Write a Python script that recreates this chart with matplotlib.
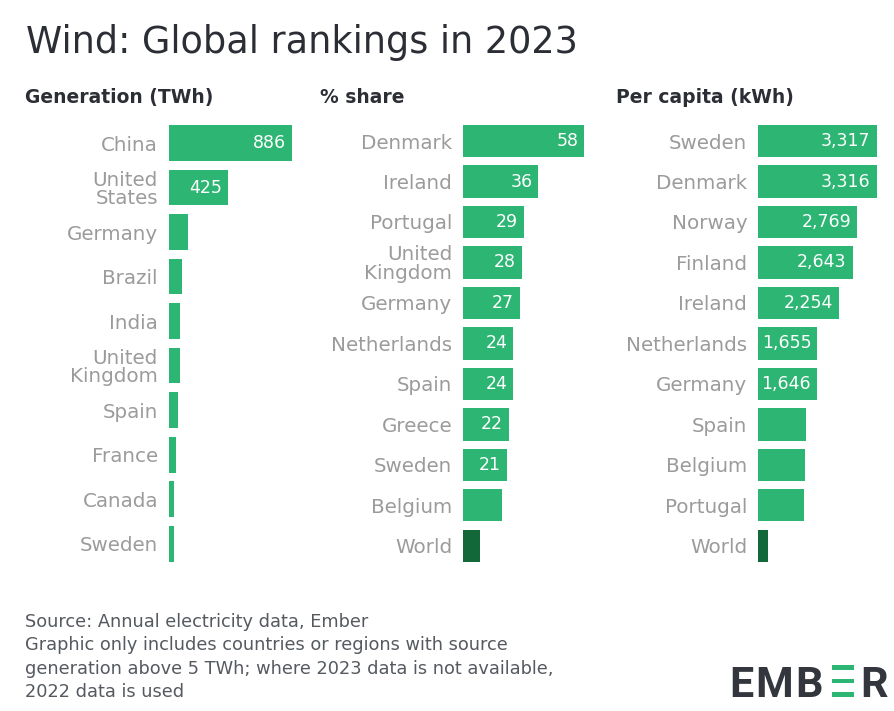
import matplotlib
matplotlib.use("Agg")
import matplotlib.pyplot as plt
from matplotlib.patches import Rectangle

# Data
gen_countries = ["China", "United\nStates", "Germany", "Brazil", "India",
                 "United\nKingdom", "Spain", "France", "Canada", "Sweden"]
gen_values = [886, 425, 138, 96, 82, 82, 62, 49, 39, 34]
gen_labels = ["886", "425", None, None, None, None, None, None, None, None]

share_countries = ["Denmark", "Ireland", "Portugal", "United\nKingdom", "Germany",
                   "Netherlands", "Spain", "Greece", "Sweden", "Belgium", "World"]
share_values = [58, 36, 29, 28, 27, 24, 24, 22, 21, 18.5, 8]
share_labels = ["58", "36", "29", "28", "27", "24", "24", "22", "21", None, None]

pc_countries = ["Sweden", "Denmark", "Norway", "Finland", "Ireland", "Netherlands",
                "Germany", "Spain", "Belgium", "Portugal", "World"]
pc_values = [3317, 3316, 2769, 2643, 2254, 1655, 1646, 1346, 1309, 1281, 280]
pc_labels = ["3,317", "3,316", "2,769", "2,643", "2,254", "1,655", "1,646",
             None, None, None, None]

GREEN = "#2db673"
DARK_GREEN = "#13683a"
TITLE_COL = "#2b2e34"
LABEL_COL = "#9b9b9b"
NOTE_COL = "#555a60"

W, H = 895, 711
fig = plt.figure(figsize=(W / 100, H / 100), dpi=100)
fig.patch.set_facecolor("white")


def px(x, y):
    return x / W, 1 - y / H


def panel(left, width, names, values, labels):
    top, bottom = 120.8, 566
    ax = fig.add_axes([left / W, 1 - bottom / H, width / W, (bottom - top) / H])
    n = len(values)
    colors = [DARK_GREEN if c == "World" else GREEN for c in names]
    ax.barh(range(n), values, height=0.8, color=colors, edgecolor="none")
    ax.set_xlim(0, max(values))
    ax.set_ylim(n - 0.5, -0.5)
    ax.set_yticks(range(n))
    ax.set_yticklabels(names, fontsize=14.3, color=LABEL_COL)
    for t in ax.get_yticklabels():
        t.set_linespacing(0.95)
    ax.tick_params(axis="y", length=0, pad=8)
    ax.set_xticks([])
    for s in ax.spines.values():
        s.set_visible(False)
    for i, (v, lab) in enumerate(zip(values, labels)):
        if lab:
            ax.annotate(lab, (v, i), xytext=(-6, 0), textcoords="offset pixels",
                        ha="right", va="center", color="white", fontsize=12.5)
    return ax


panel(169, 122.7, gen_countries, gen_values, gen_labels)
panel(463.3, 121, share_countries, share_values, share_labels)
panel(758.3, 118.3, pc_countries, pc_values, pc_labels)

# title + column headers
fig.text(*px(26, 53), "Wind: Global rankings in 2023", fontsize=26.4,
         color=TITLE_COL, va="baseline", ha="left")
for x, h in [(25, "Generation (TWh)"), (320, "% share"), (616, "Per capita (kWh)")]:
    fig.text(*px(x, 103), h, fontsize=13.5, fontweight="bold", color=TITLE_COL,
             va="baseline", ha="left")

# footnote
notes = ["Source: Annual electricity data, Ember",
         "Graphic only includes countries or regions with source",
         "generation above 5 TWh; where 2023 data is not available,",
         "2022 data is used"]
for k, line in enumerate(notes):
    fig.text(*px(25, 627 + k * 23.3), line, fontsize=12.8, color=NOTE_COL,
             va="baseline", ha="left")

# EMBER logo
for x, ch in [(741, "E"), (774, "M"), (809.5, "B"), (874.5, "R")]:
    fig.text(*px(x, 697), ch, fontsize=31, fontweight="bold", family="Roboto",
             color="#33373d", va="baseline", ha="center")
for yc in [667.5, 681, 694.5]:
    x0, y0 = px(832, yc + 2.2)
    fig.add_artist(Rectangle((x0, y0), 22 / W, 4.4 / H, transform=fig.transFigure,
                             color=GREEN, lw=0))

fig.savefig("out.png", dpi=100)
